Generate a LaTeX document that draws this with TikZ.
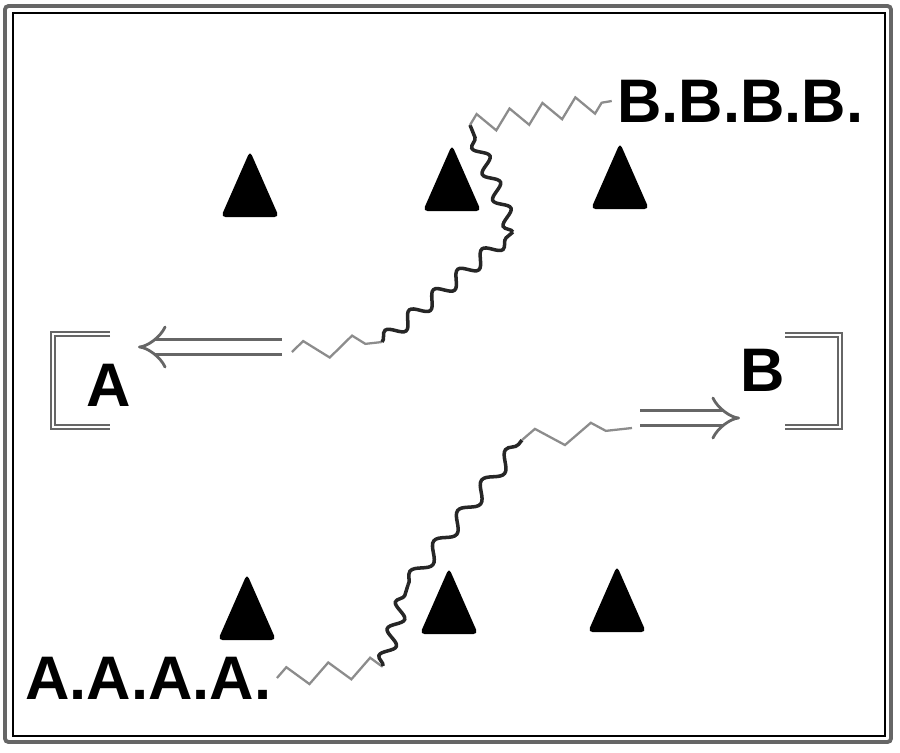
\documentclass[tikz,border=0pt]{standalone}
\usepackage{fontspec}
\setmainfont{Liberation Sans}
\usetikzlibrary{arrows.meta,decorations.pathmorphing,positioning}

\tikzset{
  cone/.pic={\fill[rounded corners=2.5pt] (0,-34) -- (29,32) -- (-29,32) -- cycle;},
  tag/.style={font=\bfseries\fontsize{35}{35}\selectfont, inner sep=0pt},
  run/.style={double, double distance=7pt, line width=1.6pt, draw=black!60, -{Implies[scale=1.5]}},
  goal/.style={double, double distance=1pt, line width=1.4pt, draw=black!60},
  zig/.style={draw=black!45, line width=1.3pt, decorate,
    decoration={zigzag, segment length=#1, amplitude=5.5pt}},
  zig/.default=20pt,
  wig/.style={draw=black!85, line width=2pt, decorate,
    decoration={snake, segment length=#1, amplitude=4pt}},
  wig/.default=16pt,
}

\begin{document}
\begin{tikzpicture}[x=0.02cm, y=-0.02cm]
      \useasboundingbox (0,0) rectangle (900,752);
      \draw[line width=2.2pt, black!60, rounded corners=2pt] (5,6) rectangle (891,742);
      \draw[line width=0.8pt] (13,13) rectangle (885,736);

      % cones
      \pic (c1) at (250,185) {cone};
      \pic (c2) at (452,179) {cone};
      \pic (c3) at (620,177) {cone};
      \pic (c4) at (247,608) {cone};
      \pic (c5) at (449,602) {cone};
      \pic (c6) at (617,600) {cone};

      % goals
      \draw[goal] (110,334) -- (53,334) -- (53,427) -- (110,427);
      \draw[goal] (785,335) -- (840,335) -- (840,427) -- (785,427);

      \node[tag]              (A)    at (109,385) {A};
      \node[tag]              (B)    at (763,370) {B};
      \node[tag, anchor=west] (AAAA) at (25,678)  {A.A.A.A.};
      \node[tag, anchor=west] (BBBB) at (617,101) {B.B.B.B.};

      % runs
      \coordinate (runA)  at (282,347);
      \coordinate (hitA)  at (138,347);
      \coordinate (runB)  at (640,418);
      \coordinate (hitB)  at (740,418);
      \draw[run] (runA) -- (hitA);
      \draw[run] (runB) -- (hitB);

      \coordinate (a0) at (292,352);
      \coordinate (a1) at (382,342);
      \coordinate (a2) at (513,232);
      \coordinate (a3) at (470,125);
      \draw[zig=28pt] (a0) -- (a1);
      \draw[wig=18pt] (a1) -- (a2);
      \draw[wig=16pt] (a2) -- (a3);
      \draw[zig=19pt] (a3) -- ([xshift=-3pt]BBBB.west);

      \coordinate (b1) at (383,666);
      \coordinate (b2) at (408,585);
      \coordinate (b3) at (522,440);
      \draw[zig=24pt] ([xshift=3pt]AAAA.east) -- (b1);
      \draw[wig=16pt] (b1) -- (b2);
      \draw[wig=22pt] (b2) -- (b3);
      \draw[zig=32pt] (b3) -- (632,428);
    \end{tikzpicture}
\end{document}
